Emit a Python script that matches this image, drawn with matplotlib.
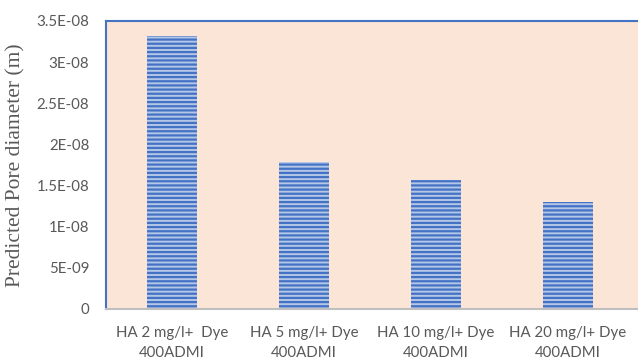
import numpy as np
import matplotlib
matplotlib.use("Agg")
import matplotlib.pyplot as plt

# Pore diameter predicted for each HA dose (dye fixed at 400 ADMI)
labels = ["HA 2 mg/l+  Dye\n400ADMI", "HA 5 mg/l+ Dye\n400ADMI",
          "HA 10 mg/l+ Dye\n400ADMI", "HA 20 mg/l+ Dye\n400ADMI"]
pore_diameter = [3.32e-08, 1.79e-08, 1.57e-08, 1.30e-08]
yticks = [0, 5e-09, 1e-08, 1.5e-08, 2e-08, 2.5e-08, 3e-08, 3.5e-08]
ytick_labels = ["0", "5E-09", "1E-08", "1.5E-08", "2E-08", "2.5E-08", "3E-08", "3.5E-08"]

BLUE = "#4472C4"
GRAY = "#595959"

plt.rcParams["hatch.linewidth"] = 1.6

fig = plt.figure(figsize=(6.38, 3.6), dpi=100)
ax = fig.add_axes([106 / 638, 1 - 309 / 360, 532 / 638, 288 / 360])
ax.set_facecolor("#FBE5D6")

x = np.arange(len(labels))
ax.bar(x, pore_diameter, width=0.38, color="#B4C7E7", edgecolor=BLUE,
       hatch="----", linewidth=0, zorder=2)

ax.set_xlim(-0.5, 3.53)
ax.set_ylim(0, 3.5e-08)
ax.set_yticks(yticks)
ax.set_yticklabels(ytick_labels)
ax.set_xticks(x)
ax.set_xticklabels(labels, linespacing=1.55)

ax.tick_params(axis="both", length=0, labelsize=10.8, labelcolor=GRAY)
ax.tick_params(axis="y", pad=12)
ax.tick_params(axis="x", pad=12)
for t in ax.get_xticklabels() + ax.get_yticklabels():
    t.set_fontfamily("Lato")

for side in ["left", "top"]:
    ax.spines[side].set_color(BLUE)
    ax.spines[side].set_linewidth(1.5)
ax.spines["right"].set_visible(False)
ax.spines["bottom"].set_color("#BFBFBF")
ax.spines["bottom"].set_linewidth(1.5)

ax.set_ylabel("Predicted Pore diameter (m)", family="Liberation Serif",
              fontsize=15.5, color=GRAY, labelpad=8)

fig.savefig("out.png", dpi=100)
